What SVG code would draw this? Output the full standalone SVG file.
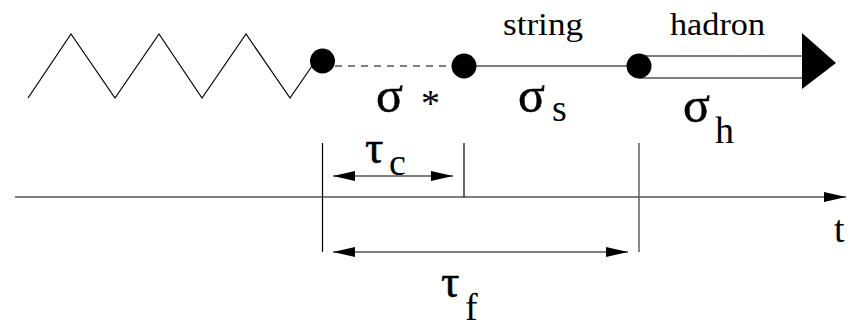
<svg xmlns="http://www.w3.org/2000/svg" width="856" height="329" viewBox="0 0 856 329">
<defs>
<style>
.ln{stroke:#000;stroke-width:1.2;fill:none}
.gr{stroke:#555;stroke-width:1.4;fill:none}
.dot{fill:#000}
.gk{font-size:50px;stroke:#000;stroke-width:0.5}
.tau{font-size:46px;stroke:#000;stroke-width:0.5}
.sub{font-size:38px}
</style>
<marker id="ah" viewBox="0 0 22 10" refX="22" refY="5" markerWidth="22" markerHeight="10" markerUnits="userSpaceOnUse" orient="auto-start-reverse">
<path d="M0,0 L22,5 L0,10 z" fill="#000"/>
</marker>
</defs>
<rect width="856" height="329" fill="#fff"/>
<g id="connectors">
<polyline class="ln" points="28,98 71,34 115,98 159,34 202,98 246,34 290,98 312,66"/>
<line x1="335" y1="66" x2="452" y2="66" stroke="#555" stroke-width="1.3" stroke-dasharray="7 6"/>
<line class="gr" x1="476" y1="66" x2="627" y2="66"/>
<line class="gr" x1="639" y1="56" x2="802" y2="56"/>
<line class="gr" x1="639" y1="78" x2="802" y2="78"/>
<polygon points="802,33 836,63 802,89" fill="#000"/>
<line class="ln" x1="15" y1="197" x2="846" y2="197" marker-end="url(#ah)"/>
<line class="ln" x1="322.5" y1="143" x2="322.5" y2="252"/>
<line class="ln" x1="464" y1="143" x2="464" y2="197"/>
<line class="gr" x1="639" y1="143" x2="639" y2="252"/>
<line class="ln" x1="333" y1="176" x2="453" y2="176" marker-start="url(#ah)" marker-end="url(#ah)"/>
<line class="ln" x1="333" y1="252" x2="628" y2="252" marker-start="url(#ah)" marker-end="url(#ah)"/>
</g>
<g id="dot1"><circle class="dot" cx="322.5" cy="61" r="12.5"/></g>
<g id="dot2"><circle class="dot" cx="464" cy="66" r="12.5"/></g>
<g id="dot3"><circle class="dot" cx="639" cy="66" r="12.5"/></g>
<g id="labels" fill="#000" font-family="Liberation Serif, Times New Roman, serif">
<text x="503" y="35" font-size="32" textLength="80" lengthAdjust="spacingAndGlyphs">string</text>
<text x="670" y="35" font-size="32" textLength="95" lengthAdjust="spacingAndGlyphs">hadron</text>
<text class="gk" x="376" y="112">σ</text>
<text class="sub" x="421" y="116">*</text>
<text class="gk" x="518" y="112">σ</text>
<text class="sub" x="552" y="121">s</text>
<text class="gk" x="683" y="122">σ</text>
<text class="sub" x="715" y="143">h</text>
<text class="tau" x="365" y="163">τ</text>
<text class="sub" x="389" y="175">c</text>
<text class="tau" x="441" y="297">τ</text>
<text class="sub" x="465" y="320" font-size="34">f</text>
<text class="sub" x="834" y="242" font-size="46">t</text>
</g>
</svg>
